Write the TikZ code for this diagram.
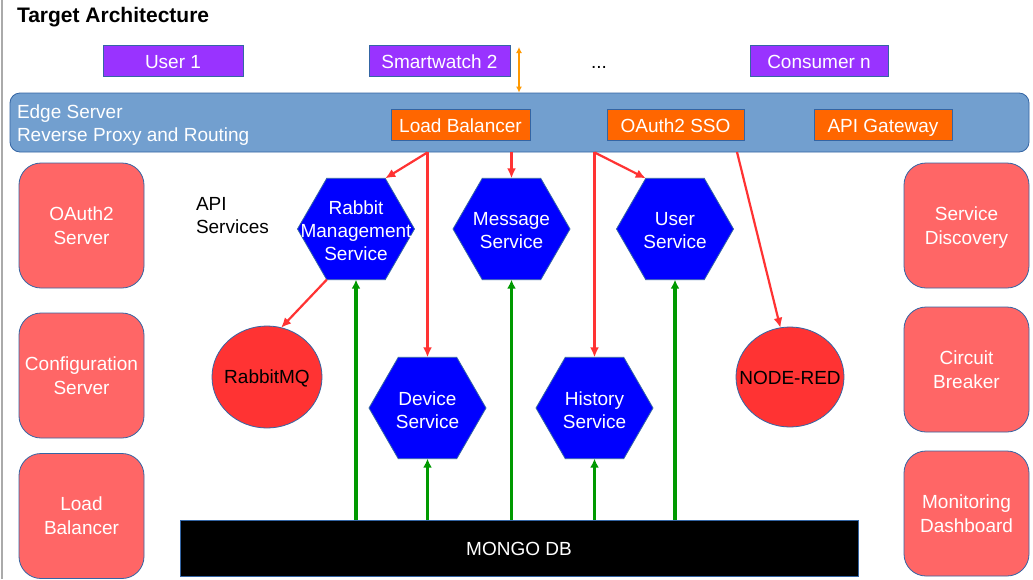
\documentclass[tikz,border=0pt]{standalone}
\usepackage{fontspec}
\setmainfont{Liberation Sans}
\usetikzlibrary{shapes.geometric,arrows.meta}
\definecolor{purp}{HTML}{9933FF}
\definecolor{orng}{HTML}{FF6600}
\definecolor{edgefill}{HTML}{729FCF}
\definecolor{bordr}{HTML}{3465A4}
\definecolor{hexblue}{HTML}{0000FF}
\definecolor{redcirc}{HTML}{FF3333}
\definecolor{boxred}{HTML}{FF6666}
\definecolor{arrred}{HTML}{FF3333}
\definecolor{grn}{HTML}{009900}
\definecolor{amber}{HTML}{FF9900}
\definecolor{pagegray}{HTML}{AAAAAA}
\begin{document}
\begin{tikzpicture}[x=1pt,y=-1pt,
  txt/.style={font=\fontsize{19}{23}\selectfont, inner sep=0, outer sep=0},
  wtxt/.style={txt, text=white, align=center},
  client/.style={txt, draw=bordr, line width=0.8pt, fill=purp, text=white, minimum width=140pt, minimum height=31pt, text height=15pt, text depth=0pt},
  orbox/.style={txt, draw=bordr, line width=0.8pt, fill=orng, text=white, minimum height=31pt, text height=16pt, text depth=0pt},
  hexa/.style={regular polygon, regular polygon sides=6, minimum size=117pt, inner sep=0, outer sep=0, fill=hexblue, draw=bordr, line width=0.8pt},
  circ/.style={ellipse, inner sep=0, outer sep=0, fill=redcirc, draw=bordr, line width=0.8pt},
  rbox/.style={wtxt, font=\fontsize{19}{24}\selectfont, rectangle, rounded corners=22pt, fill=boxred, draw=bordr, line width=0.8pt, minimum width=125pt, minimum height=125pt, text depth=0pt},
  rarr/.style={draw=arrred, line width=2.2pt, -{Latex[length=10pt,width=9pt]}},
  garr/.style={draw=grn, line width=3.2pt, -{Latex[length=9pt,width=9pt]}},
]
\useasboundingbox (0,0) rectangle (1033,579);
\fill[white] (0,0) rectangle (1033,579);
\draw[pagegray, line width=1.5pt] (2,0) -- (2,579);

% title
\node[txt, anchor=base west, font=\fontsize{21}{25}\selectfont\bfseries] (title) at (17,22) {Target Architecture};

% clients
\node[client] (user1) at (173,60.5) {User 1};
\node[client, minimum width=141pt] (watch) at (439.5,60.5) {Smartwatch 2};
\node[txt, anchor=base] (dots) at (599,68) {...};
\node[client, minimum width=138pt] (cons) at (819,60.5) {Consumer n};

% edge server
\node[rectangle, rounded corners=10pt, fill=edgefill, draw=bordr, line width=0.8pt, minimum width=1019pt, minimum height=59pt, inner sep=0] (edge) at (519.5,122.5) {};
\node[txt, text=white, anchor=base west] (edgeA) at (17,118) {Edge Server};
\node[txt, text=white, anchor=base west] (edgeB) at (17,141) {Reverse Proxy and Routing};
\node[orbox, minimum width=139pt] (lb) at (460.5,124.5) {Load Balancer};
\node[orbox, minimum width=137pt] (sso) at (675.5,124.5) {OAuth2 SSO};
\node[orbox, minimum width=138pt] (gw) at (883,124.5) {API Gateway};

\coordinate (oa) at (519,47);
\draw[amber, line width=1.5pt, {Latex[length=6pt,width=6pt]}-{Latex[length=6pt,width=6pt]}] (oa) -- (edge.north -| oa);

% side boxes
\node[rbox] (oauth) at (81.5,225.5) {OAuth2\\Server};
\node[rbox] (conf) at (81.5,375.5) {Configuration\\Server};
\node[rbox] (lbal) at (81.5,516) {Load\\Balancer};
\node[rbox] (disc) at (966.5,225.5) {Service\\Discovery};
\node[rbox] (cb) at (966.5,369.5) {Circuit\\Breaker};
\node[rbox] (mon) at (966.5,513.5) {Monitoring\\Dashboard};

% API services label
\node[txt, anchor=base west] (apiA) at (196,210.5) {API};
\node[txt, anchor=base west] (apiB) at (196,233) {Services};

% hexagons
\node[hexa] (rms) at (356,229) {};
\node[wtxt] (rmsT) at (356,231) {Rabbit\\Management\\Service};
\node[hexa] (msg) at (511.5,229) {};
\node[wtxt] (msgT) at (511.5,231) {Message\\Service};
\node[hexa] (usr) at (675,229) {};
\node[wtxt] (usrT) at (675,231) {User\\Service};
\node[hexa] (dev) at (427.5,408) {};
\node[wtxt] (devT) at (427.5,410) {Device\\Service};
\node[hexa] (his) at (594.5,408) {};
\node[wtxt] (hisT) at (594.5,410) {History\\Service};

% circles
\node[circ, minimum width=110pt, minimum height=102pt] (rmq) at (267,377) {};
\node[txt] (rmqT) at (267,378) {RabbitMQ};
\node[circ, minimum width=108pt, minimum height=100pt] (nred) at (790,377) {};
\node[txt] (nredT) at (790,378) {NODE-RED};

% mongo
\node[rectangle, fill=black, draw=bordr, line width=0.8pt, minimum width=678pt, minimum height=56pt, inner sep=0] (mongo) at (519,548) {};
\node[txt, text=white] (mongoT) at (519,549) {MONGO DB};

% red arrows
\coordinate (p1) at (edge.south -| dev.north);
\coordinate (p2) at (edge.south -| msg.north);
\coordinate (p3) at (edge.south -| his.north);
\coordinate (p4) at (737,152);
\draw[rarr] (p1) -- (rms.60);
\draw[rarr] (p1) -- (dev.north);
\draw[rarr] (p2) -- (msg.north);
\draw[rarr] (p3) -- (his.north);
\draw[rarr] (p3) -- (usr.120);
\draw[rarr] (p4) -- (nred.101);
\draw[rarr] (rms.240) -- (rmq.74);

% green arrows
\draw[garr] (mongo.north -| rms.south) -- (rms.south);
\draw[garr] (mongo.north -| dev.south) -- (dev.south);
\draw[garr] (mongo.north -| msg.south) -- (msg.south);
\draw[garr] (mongo.north -| his.south) -- (his.south);
\draw[garr] (mongo.north -| usr.south) -- (usr.south);
\end{tikzpicture}
\end{document}
